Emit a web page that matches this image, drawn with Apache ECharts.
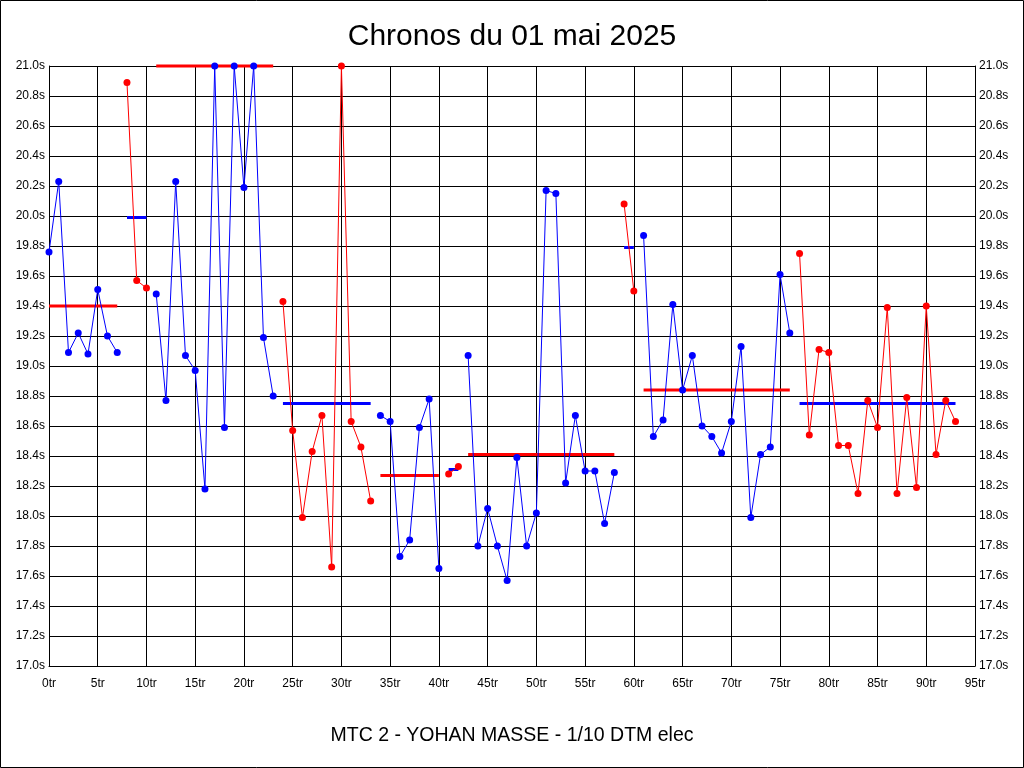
<!DOCTYPE html>
<html>
<head>
<meta charset="utf-8">
<script src="https://cdn.jsdelivr.net/npm/echarts@6/dist/echarts.min.js"></script>
<style>
html,body{margin:0;padding:0;background:#fff;}
#chart{width:1024px;height:768px;}
</style>
</head>
<body>
<div id="chart"></div>
<script>
// ---- Data ----
const titleText = 'Chronos du 01 mai 2025';
const subtitleText = 'MTC 2 - YOHAN MASSE - 1/10 DTM elec';

// first lap number of each stint
const stintStarts = [0, 8, 11, 24, 34, 41, 43, 59, 61, 77];

// lap times (seconds) per stint
const stint1 = [19.76, 20.23, 19.09, 19.22, 19.08, 19.51, 19.20, 19.09];
const stint2 = [20.89, 19.57, 19.52];
const stint3 = [19.48, 18.77, 20.23, 19.07, 18.97, 18.18, 21.00, 18.59, 21.00, 20.19, 21.00, 19.19, 18.80];
const stint4 = [19.43, 18.57, 17.99, 18.43, 18.67, 17.66, 21.00, 18.63, 18.46, 18.10];
const stint5 = [18.67, 18.63, 17.73, 17.84, 18.59, 18.78, 17.65];
const stint6 = [18.28, 18.33];
const stint7 = [19.07, 17.80, 18.05, 17.80, 17.57, 18.39, 17.80, 18.02, 20.17, 20.15, 18.22, 18.67, 18.30, 18.30, 17.95, 18.29];
const stint8 = [20.08, 19.50];
const stint9 = [19.87, 18.53, 18.64, 19.41, 18.84, 19.07, 18.60, 18.53, 18.42, 18.63, 19.13, 17.99, 18.41, 18.46, 19.61, 19.22];
const stint10 = [19.75, 18.54, 19.11, 19.09, 18.47, 18.47, 18.15, 18.77, 18.59, 19.39, 18.15, 18.79, 18.19, 19.40, 18.41, 18.77, 18.63];
const stints = [stint1, stint2, stint3, stint4, stint5, stint6, stint7, stint8, stint9, stint10];

// average lap time line of each stint (as drawn)
const stintAverages = [19.40, 19.99, 21.00, 18.75, 18.27, 18.31, 18.41, 19.79, 18.84, 18.75];

// axis ranges / ticks
const xMin = 0, xMax = 95, xStep = 5;
const yMin = 17.0, yMax = 21.0, yStep = 0.2;

// ---- Build chart ----
const BLUE = '#0000ff', RED = '#ff0000';
const series = [];

stints.forEach((vals, i) => {
  const start = stintStarts[i];
  const end = start + vals.length - 1;
  const lineColor = i % 2 === 0 ? BLUE : RED;
  const avgColor = i % 2 === 0 ? RED : BLUE;
  // average line
  series.push({
    type: 'line',
    data: [[start, stintAverages[i]], [end, stintAverages[i]]],
    showSymbol: false,
    symbol: 'none',
    lineStyle: { color: avgColor, width: 3 },
    itemStyle: { color: avgColor },
    z: 2,
    clip: false,
    silent: true,
    animation: false
  });
});
stints.forEach((vals, i) => {
  const start = stintStarts[i];
  const lineColor = i % 2 === 0 ? BLUE : RED;
  series.push({
    type: 'line',
    data: vals.map((v, k) => [start + k, v]),
    symbol: 'circle',
    symbolSize: 7,
    showAllSymbol: true,
    lineStyle: { color: lineColor, width: 1 },
    itemStyle: { color: lineColor },
    z: 3,
    clip: false,
    silent: true,
    animation: false
  });
});

const labelFont = { color: '#000', fontSize: 12, fontFamily: 'Liberation Sans, Arial, sans-serif' };

function yAxisDef(pos) {
  return {
    type: 'value',
    position: pos,
    min: yMin, max: yMax, interval: yStep,
    axisLine: { show: true, lineStyle: { color: '#000', width: 1 } },
    axisTick: { show: false },
    axisLabel: Object.assign({ margin: 4, formatter: v => v.toFixed(1) + 's' }, labelFont),
    splitLine: { show: pos === 'left', lineStyle: { color: '#000', width: 1 } }
  };
}

const chart = echarts.init(document.getElementById('chart'), null, { renderer: 'canvas' });
chart.setOption({
  backgroundColor: '#fff',
  animation: false,
  title: [
    { text: titleText, left: 'center', top: 17,
      textStyle: { color: '#000', fontSize: 30, fontWeight: 'normal', fontFamily: 'Liberation Sans, Arial, sans-serif' } },
    { text: subtitleText, left: 'center', top: 721,
      textStyle: { color: '#000', fontSize: 19.5, fontWeight: 'normal', fontFamily: 'Liberation Sans, Arial, sans-serif' } }
  ],
  grid: { left: 49, right: 49, top: 66, bottom: 102, containLabel: false },
  xAxis: {
    type: 'value',
    min: xMin, max: xMax, interval: xStep,
    axisLine: { show: true, onZero: false, lineStyle: { color: '#000', width: 1 } },
    axisTick: { show: false },
    axisLabel: Object.assign({ margin: 12, formatter: v => v + 'tr' }, labelFont),
    splitLine: { show: true, lineStyle: { color: '#000', width: 1 } }
  },
  yAxis: [yAxisDef('left'), yAxisDef('right')],
  graphic: [{
    type: 'rect',
    shape: { x: 0.5, y: 0.5, width: 1023, height: 767 },
    style: { fill: 'none', stroke: '#000', lineWidth: 1 },
    silent: true
  }],
  series: series
});
</script>
</body>
</html>
